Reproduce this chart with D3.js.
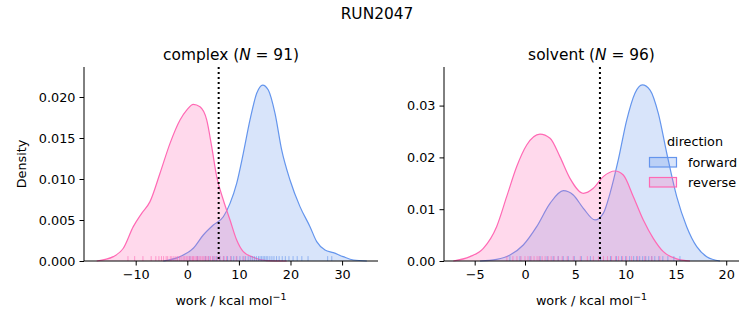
<!DOCTYPE html>
<html>
<head>
<meta charset="utf-8">
<script src="https://cdn.jsdelivr.net/npm/d3@7"></script>
<style>
  body { margin: 0; background: #fff; }
  text { font-family: "DejaVu Sans", sans-serif; fill: #000; }
</style>
</head>
<body>
<div id="chart"></div>
<script>
// KDE curves: [work, density]
var complexFwd = [[-4.65,0],[-1.41,0.00053],[1.16,0.00155],[3.10,0.00317],[5.04,0.00439],[6.98,0.0054],
  [8.28,0.00703],[9.57,0.00947],[10.85,0.01313],[12.15,0.0172],[13.45,0.02045],[14.61,0.02146],[15.70,0.02085],
  [17.0,0.0180],[18.29,0.01354],[19.90,0.00988],[21.84,0.00663],[23.78,0.00419],[25.08,0.00236],[26.69,0.00134],
  [28.3,0.00102],[30.2,0.00053],[32.2,0.00012],[34.8,0]];
var complexRev = [[-17.56,0],[-14.34,0.00053],[-12.40,0.00155],[-10.47,0.00419],[-8.84,0.00581],[-7.23,0.00724],
  [-5.29,0.0107],[-3.35,0.01435],[-1.41,0.0172],[-0.12,0.0184],[1.16,0.0191],[2.46,0.0188],[3.76,0.0172],
  [4.73,0.01394],[5.70,0.01028],[6.98,0.00744],[8.28,0.0050],[9.57,0.00256],[10.85,0.00114],[12.79,0.00045],
  [15.38,0.00004],[19.26,0]];
var solventFwd = [[-4.47,0],[-2.82,0.00032],[-1.49,0.00116],[-0.17,0.00309],[1.16,0.00663],[2.49,0.01113],
  [3.81,0.01358],[4.80,0.01274],[5.80,0.01017],[6.96,0.00792],[7.78,0.0092],[8.45,0.01306],[9.27,0.0195],
  [10.11,0.0272],[10.93,0.0324],[11.66,0.0340],[12.43,0.0330],[13.25,0.0285],[14.09,0.0208],[15.08,0.01242],
  [16.07,0.00663],[17.07,0.00277],[18.06,0.00084],[19.38,0]];
var solventRev = [[-7.13,0],[-5.47,0.00084],[-4.14,0.00245],[-2.82,0.00663],[-1.82,0.01242],[-0.83,0.0182],
  [0.17,0.0224],[1.49,0.0245],[2.49,0.0237],[3.48,0.0201],[4.47,0.01596],[5.80,0.01306],[6.79,0.01403],
  [7.78,0.01628],[8.95,0.01737],[9.77,0.0166],[10.77,0.01242],[11.76,0.00792],[12.75,0.00438],[13.75,0.0018],
  [15.08,0.0004],[16.40,0]];

// rug samples (estimated)
var complexFwdRug = [0.5,2.0,3.5,4.2,5.0,5.6,6.3,7.1,7.8,8.5,9.0,9.6,10.2,10.8,11.3,11.8,12.2,12.6,13.0,13.4,
  13.8,14.1,14.4,14.7,15.0,15.3,15.6,16.0,16.4,16.8,17.3,17.8,18.4,19.0,19.7,20.5,21.3,22.2,23.4,27.2,28.0];
var complexRevRug = [-11.5,-10.2,-8.6,-7.0,-6.1,-5.5,-5.0,-4.6,-4.1,-3.8,-3.3,-3.0,-2.6,-2.2,-1.9,-1.5,-1.2,
  -0.8,-0.5,-0.2,0.1,0.4,0.7,1.0,1.2,1.5,1.8,2.0,2.3,2.6,2.9,3.2,3.5,3.8,4.1,4.5,4.9,5.3,5.8,6.3,7.0,7.6,8.4,9.5,11.0];
var solventFwdRug = [-1.5,-0.5,0.5,1.5,2.2,2.8,3.3,3.8,4.3,4.9,5.6,6.5,7.5,8.5,9.1,9.6,10.0,10.4,10.8,11.1,
  11.4,11.7,12.0,12.3,12.6,12.9,13.3,13.7,14.2,14.8,15.4];
var solventRevRug = [-1.8,-1.2,-0.8,-0.4,0.0,0.3,0.6,0.9,1.2,1.4,1.7,2.0,2.3,2.6,2.9,3.3,3.7,4.2,4.8,5.5,6.2,
  6.8,7.3,7.8,8.2,8.6,9.0,9.3,9.7,10.1,10.6,11.2,11.9,12.6,13.4];

var complexTicksX = [-10, 0, 10, 20, 30];
var complexTicksY = [0, 0.005, 0.010, 0.015, 0.020];
var solventTicksX = [-5, 0, 5, 10, 15, 20];
var solventTicksY = [0, 0.01, 0.02, 0.03];

var colors = {forward: "#6495ED", reverse: "#FF69B4"};

var W = 753, H = 325;
var svg = d3.select("#chart").append("svg").attr("width", W).attr("height", H);

svg.append("text").attr("x", 377).attr("y", 19).attr("text-anchor", "middle")
  .style("font-size", "15.4px").text("RUN2047");

var panels = [
  {name: "complex", n: 91, left: 84, right: 378, xdom: [-20.02, 36.96], ydom: [0, 0.02366],
   fwd: complexFwd, rev: complexRev, fwdRug: complexFwdRug, revRug: complexRevRug, marker: 6.08,
   tx: complexTicksX, ty: complexTicksY, fmt: ".3f", ylabel: true},
  {name: "solvent", n: 96, left: 444, right: 739, xdom: [-8.05, 21.27], ydom: [0, 0.03745],
   fwd: solventFwd, rev: solventRev, fwdRug: solventFwdRug, revRug: solventRevRug, marker: 7.45,
   tx: solventTicksX, ty: solventTicksY, fmt: ".2f", ylabel: false}
];
var plotTop = 67, plotBottom = 261;

panels.forEach(function(p) {
  var x = d3.scaleLinear().domain(p.xdom).range([p.left, p.right]);
  var y = d3.scaleLinear().domain(p.ydom).range([plotBottom, plotTop]);
  var g = svg.append("g");

  var area = d3.area().x(function(d){ return x(d[0]); }).y0(y(0)).y1(function(d){ return y(d[1]); })
    .curve(d3.curveMonotoneX);
  var line = d3.line().x(function(d){ return x(d[0]); }).y(function(d){ return y(d[1]); })
    .curve(d3.curveMonotoneX);

  [["forward", p.fwd], ["reverse", p.rev]].forEach(function(s) {
    g.append("path").attr("d", area(s[1])).style("fill", colors[s[0]]).style("fill-opacity", 0.25);
    g.append("path").attr("d", line(s[1])).style("fill", "none")
      .style("stroke", colors[s[0]]).style("stroke-width", 1.2);
  });

  // rugs
  [["forward", p.fwdRug], ["reverse", p.revRug]].forEach(function(s) {
    g.selectAll(null).data(s[1]).enter().append("line")
      .attr("x1", function(d){ return x(d); }).attr("x2", function(d){ return x(d); })
      .attr("y1", plotBottom).attr("y2", plotBottom - 4.9)
      .style("stroke", colors[s[0]]).style("stroke-opacity", 0.6).style("stroke-width", 1);
  });

  // marker line
  g.append("line").attr("x1", x(p.marker)).attr("x2", x(p.marker)).attr("y1", plotTop).attr("y2", plotBottom)
    .style("stroke", "#000").style("stroke-width", 2).style("stroke-dasharray", "2,3");

  // axes
  var xa = g.append("g").attr("transform", "translate(0," + plotBottom + ")")
    .call(d3.axisBottom(x).tickValues(p.tx).tickFormat(d3.format("d")).tickSize(4.5).tickPadding(4));
  var ya = g.append("g").attr("transform", "translate(" + p.left + ",0)")
    .call(d3.axisLeft(y).tickValues(p.ty).tickFormat(d3.format(p.fmt)).tickSize(4.5).tickPadding(4));
  [xa, ya].forEach(function(a) {
    a.select(".domain").remove();
    a.selectAll("text").style("font-size", "12.8px").style("font-family", "DejaVu Sans");
    a.selectAll("line").style("stroke", "#000");
  });
  g.append("line").attr("x1", p.left).attr("x2", p.right).attr("y1", plotBottom).attr("y2", plotBottom)
    .style("stroke", "#000");
  g.append("line").attr("x1", p.left).attr("x2", p.left).attr("y1", plotTop).attr("y2", plotBottom)
    .style("stroke", "#000");

  var cx = (p.left + p.right) / 2;
  var t = g.append("text").attr("x", cx).attr("y", 60).attr("text-anchor", "middle").style("font-size", "15.4px");
  t.append("tspan").text(p.name + " (");
  t.append("tspan").style("font-style", "italic").text("N");
  t.append("tspan").text(" = " + p.n + ")");

  var xl = g.append("text").attr("x", cx).attr("y", 305).attr("text-anchor", "middle").style("font-size", "12.8px");
  xl.append("tspan").text("work / kcal mol");
  xl.append("tspan").attr("dy", -5).style("font-size", "9.5px").text("−1");

  if (p.ylabel) {
    g.append("text").attr("transform", "translate(26," + ((plotTop + plotBottom) / 2) + ") rotate(-90)")
      .attr("text-anchor", "middle").style("font-size", "12.8px").text("Density");
  }
});

// legend
var lg = svg.append("g");
lg.append("text").attr("x", 695).attr("y", 146).attr("text-anchor", "middle").style("font-size", "12.8px").text("direction");
[["forward", 157], ["reverse", 177]].forEach(function(e) {
  lg.append("rect").attr("x", 649.5).attr("y", e[1] + 0.5).attr("width", 27).attr("height", 9.5)
    .style("fill", colors[e[0]]).style("fill-opacity", 0.25).style("stroke", colors[e[0]]).style("stroke-width", 1.2);
  lg.append("text").attr("x", 688).attr("y", e[1] + 10).style("font-size", "12.8px").text(e[0]);
});
</script>
</body>
</html>
